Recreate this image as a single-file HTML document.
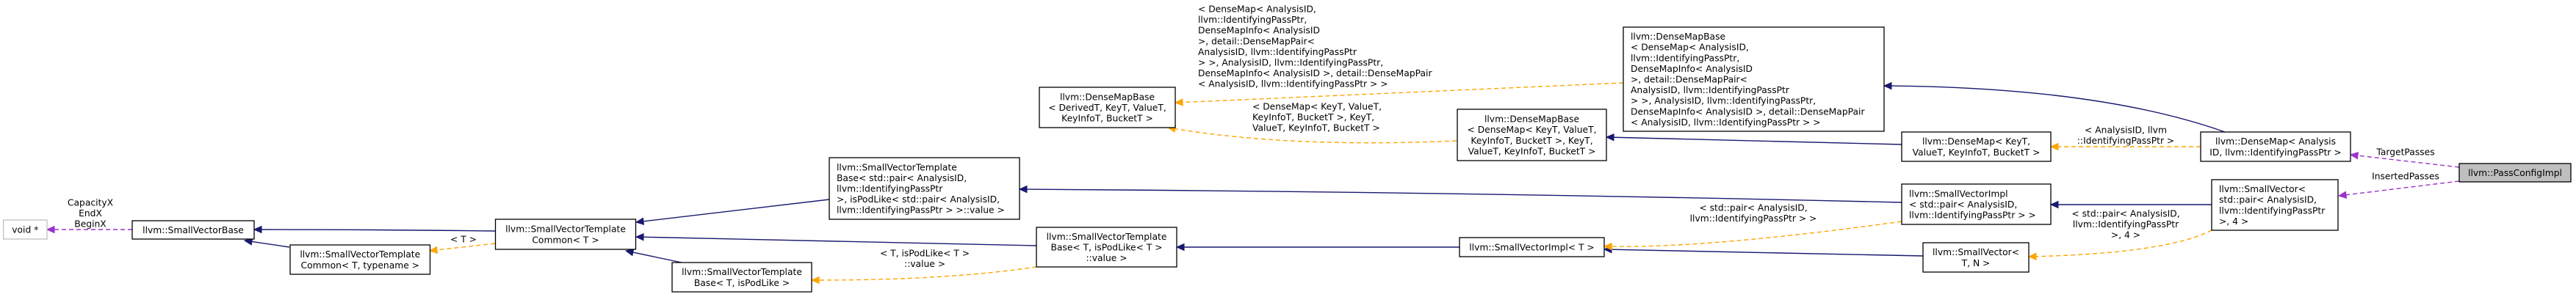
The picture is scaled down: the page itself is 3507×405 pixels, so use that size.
<!DOCTYPE html>
<html><head><meta charset="utf-8"><style>
html,body{margin:0;padding:0;background:#fff;}
svg{display:block;}
text{font-family:"DejaVu Sans","Liberation Sans",sans-serif;font-size:12.3px;fill:#000;}
</style></head><body>
<svg id="g" width="3507" height="405" viewBox="0 0 3507 405" xmlns="http://www.w3.org/2000/svg"></svg>
<script>
const NS="http://www.w3.org/2000/svg";
const LH=14.6;
const nodeIds=["void-ptr","small-vector-base","svt-common-t-typename","svt-common-t","svt-base-t-ispodlike","svt-base-pair","svt-base-t-ispodlike-value","densemapbase-derived","densemapbase-densemap-keyt","small-vector-impl-t","densemapbase-analysisid","densemap-keyt","small-vector-impl-pair","small-vector-t-n","densemap-analysisid","small-vector-pair-4","pass-config-impl"];
const nodeBoxes=[[4.6,300,59.4,26],[180,301,166,25],[395,334,190.5,40],[674.5,299,191,41],[915,358,190,40],[1129,215,259,84],[1411,310,191,54],[1415,119,185,55],[1984,149,203,70],[1987,324,197,26],[2210,37,355,142],[2589,180,203,40],[2589,251,203,55],[2618,331,144,40],[2996,180,204,40],[3011,245,172,69],[3348,223,152,25]];
const nodeAlign=["c","c","c","c","c","l","c","c","c","c","l","c","l","c","c","l","c"];
const nodeLabels=[
["void *"],["llvm::SmallVectorBase"],["llvm::SmallVectorTemplate","Common< T, typename >"],["llvm::SmallVectorTemplate","Common< T >"],["llvm::SmallVectorTemplate","Base< T, isPodLike >"],
["llvm::SmallVectorTemplate","Base< std::pair< AnalysisID,"," llvm::IdentifyingPassPtr"," >, isPodLike< std::pair< AnalysisID,"," llvm::IdentifyingPassPtr > >::value >"],
["llvm::SmallVectorTemplate","Base< T, isPodLike< T >","::value >"],
["llvm::DenseMapBase","< DerivedT, KeyT, ValueT,","KeyInfoT, BucketT >"],
["llvm::DenseMapBase","< DenseMap< KeyT, ValueT,","KeyInfoT, BucketT >, KeyT,","ValueT, KeyInfoT, BucketT >"],
["llvm::SmallVectorImpl< T >"],
["llvm::DenseMapBase","< DenseMap< AnalysisID,"," llvm::IdentifyingPassPtr,"," DenseMapInfo< AnalysisID"," >, detail::DenseMapPair<"," AnalysisID, llvm::IdentifyingPassPtr"," > >, AnalysisID, llvm::IdentifyingPassPtr,"," DenseMapInfo< AnalysisID >, detail::DenseMapPair","       < AnalysisID, llvm::IdentifyingPassPtr > >"],
["llvm::DenseMap< KeyT,","ValueT, KeyInfoT, BucketT >"],
["llvm::SmallVectorImpl","< std::pair< AnalysisID,"," llvm::IdentifyingPassPtr > >"],
["llvm::SmallVector<","T, N >"],
["llvm::DenseMap< Analysis","ID, llvm::IdentifyingPassPtr >"],
["llvm::SmallVector<"," std::pair< AnalysisID,"," llvm::IdentifyingPassPtr","       >, 4 >"],
["llvm::PassConfigImpl"]];
const nodeFill=["#fff","#fff","#fff","#fff","#fff","#fff","#fff","#fff","#fff","#fff","#fff","#fff","#fff","#fff","#fff","#fff","#bfbfbf"];
const nodeStroke=["#bfbfbf","#000","#000","#000","#000","#000","#000","#000","#000","#000","#000","#000","#000","#000","#000","#000","#000"];

const NAVY="#191970",ORANGE="#ffa500",PURPLE="#9a32cd";
// edges: [from, to, ctrl|null, color, dashed]
const edgeNames=["edge-capacity-void","edge-common-typename-base","edge-common-t-base","edge-common-t-template","edge-pair-common","edge-value-common","edge-ispodlike-common","edge-value-ispodlike","edge-impl-pair-base-pair","edge-impl-t-value","edge-vector-tn-impl-t","edge-impl-pair-impl-t","edge-densemap-keyt-base","edge-base-keyt-derived","edge-base-analysis-derived","edge-densemap-analysis-base","edge-densemap-analysis-keyt","edge-vector4-impl-pair","edge-vector4-vector-tn","edge-target-passes","edge-inserted-passes"];
const edgeGeom=[
[[180,313],[64,313],null,PURPLE,1],
[[394,337],[333,328],null,NAVY,0],
[[674,315],[346,313],[500,313],NAVY,0],
[[674,332],[585,342],null,ORANGE,1],
[[1129,272],[866,303],null,NAVY,0],
[[1411,335],[866,323],null,NAVY,0],
[[928,358],[852,342],null,NAVY,0],
[[1411,364],[1105,382],[1290,382],ORANGE,1],
[[2589,276],[1388,258],[2000,262],NAVY,0],
[[1987,337],[1602,337],null,NAVY,0],
[[2618,349],[2184,340],null,NAVY,0],
[[2589,302],[2184,336],[2330,338],ORANGE,1],
[[2589,197],[2187,187],null,NAVY,0],
[[1983,192],[1590,174],[1760,202],ORANGE,1],
[[2210,113],[1600,140],null,ORANGE,1],
[[3029,180],[2565,117],[2860,120],NAVY,0],
[[2996,200],[2792,200],null,ORANGE,1],
[[3011,279],[2792,279],null,NAVY,0],
[[3011,314],[2762,350],[2950,345],ORANGE,1],
[[3348,228],[3200,211],null,PURPLE,1],
[[3348,247],[3184,267],null,PURPLE,1]];
const edgeLabels=[["CapacityX","EndX","BeginX"],[],[],["< T >"],[],[],[],["< T, isPodLike< T >","::value >"],[],[],[],["< std::pair< AnalysisID,","llvm::IdentifyingPassPtr > >"],[],["< DenseMap< KeyT, ValueT,","KeyInfoT, BucketT >, KeyT,","ValueT, KeyInfoT, BucketT >"],
["< DenseMap< AnalysisID,","llvm::IdentifyingPassPtr,","DenseMapInfo< AnalysisID",">, detail::DenseMapPair<","AnalysisID, llvm::IdentifyingPassPtr","> >, AnalysisID, llvm::IdentifyingPassPtr,","DenseMapInfo< AnalysisID >, detail::DenseMapPair","      < AnalysisID, llvm::IdentifyingPassPtr > >"],
[],["< AnalysisID, llvm","::IdentifyingPassPtr >"],[],["< std::pair< AnalysisID,","llvm::IdentifyingPassPtr",">, 4 >"],["TargetPasses"],["InsertedPasses"]];
// label anchor: [x, first-line center y, align]
const edgeLabelPos=[[123,276,"c"],null,null,[631,326,"c"],null,null,null,[1259,345,"c"],null,null,null,[2387,283,"c"],null,[1705,145,"l"],[1631,12,"l"],null,[2894,177,"c"],null,[2894,291,"c"],[3275,207,"c"],[3275,240,"c"]];

const svg=document.getElementById('g');
function mk(t,a){const e=document.createElementNS(NS,t);for(const k in a)e.setAttribute(k,a[k]);return e;}

// edges first
edgeGeom.forEach((g,i)=>{
  const [f,t,c,col,dash]=g;
  const grp=mk('g',{});
  
  
  const src=c||f;
  const dx=t[0]-src[0],dy=t[1]-src[1],L=Math.hypot(dx,dy),ux=dx/L,uy=dy/L;
  const AL=10,AW=4.5;
  const bx=t[0]-ux*AL,by=t[1]-uy*AL;
  const d=c?`M${f[0]},${f[1]} Q${c[0]},${c[1]} ${bx},${by}`:`M${f[0]},${f[1]} L${bx},${by}`;
  const p=mk('path',{d:d,fill:'none',stroke:col,'stroke-width':1.4});
  if(dash)p.setAttribute('stroke-dasharray','6,4');
  
  
  grp.appendChild(p);
  const ah=mk('polygon',{points:`${t[0]},${t[1]} ${bx-uy*AW},${by+ux*AW} ${bx+uy*AW},${by-ux*AW}`,fill:col,stroke:col});
  
  
  grp.appendChild(ah);
  const lp=edgeLabelPos[i];
  if(lp){
    edgeLabels[i].forEach((s,j)=>{
      const tx=mk('text',{x:lp[0],y:lp[1]+j*LH+4.5,'text-anchor':lp[2]==='c'?'middle':'start'});
      tx.setAttribute('xml:space','preserve');
      tx.textContent=s;
      
      
      grp.appendChild(tx);
    });
  }
  svg.appendChild(grp);
});

// nodes
nodeBoxes.forEach((b,i)=>{
  const [x,y,w,h]=b;
  const grp=mk('g',{});
  
  
  const r=mk('rect',{x:x,y:y,width:w,height:h,fill:nodeFill[i],stroke:nodeStroke[i],'stroke-width':1.3});
  
  
  grp.appendChild(r);
  const lines=nodeLabels[i],n=lines.length,cy=y+h/2;
  lines.forEach((s,j)=>{
    const left=nodeAlign[i]==='l';
    const tx=mk('text',{x:left?x+10:x+w/2,y:cy-(n-1)*LH/2+j*LH+4.5,'text-anchor':left?'start':'middle'});
    tx.setAttribute('xml:space','preserve');
    tx.textContent=s;
    
    
    grp.appendChild(tx);
  });
  svg.appendChild(grp);
});
</script>
</body></html>
